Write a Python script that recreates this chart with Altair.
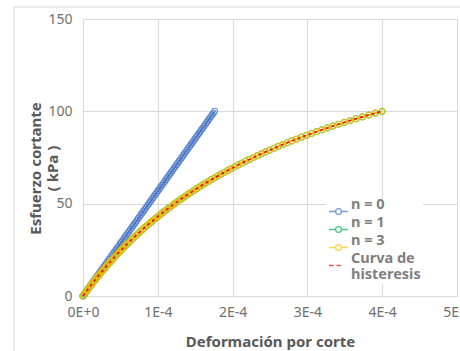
import altair as alt
import pandas as pd

# ---- data (strain in units of 1E-4, stress in kPa) ----
series_names = ["n = 0", "n = 1", "n = 3", "Curva de histeresis"]
series_colors = ["#4472c4", "#00b050", "#ffc000", "#ff0000"]

stress_kpa = [0, 1, 2, 3, 4, 5, 6, 7, 8, 9, 10, 11, 12, 13, 14, 15, 16, 17, 18, 19,
              20, 21, 22, 23, 24, 25, 26, 27, 28, 29, 30, 31, 32, 33, 34, 35, 36, 37, 38, 39,
              40, 41, 42, 43, 44, 45, 46, 47, 48, 49, 50, 51, 52, 53, 54, 55, 56, 57, 58, 59,
              60, 61, 62, 63, 64, 65, 66, 67, 68, 69, 70, 71, 72, 73, 74, 75, 76, 77, 78, 79,
              80, 81, 82, 83, 84, 85, 86, 87, 88, 89, 90, 91, 92, 93, 94, 95, 96, 97, 98, 99, 100]

strain_n0 = [0.000, 0.018, 0.035, 0.053, 0.070, 0.088, 0.106, 0.123, 0.141, 0.158,
             0.176, 0.194, 0.211, 0.229, 0.246, 0.264, 0.282, 0.299, 0.317, 0.334,
             0.352, 0.370, 0.387, 0.405, 0.422, 0.440, 0.458, 0.475, 0.493, 0.510,
             0.528, 0.546, 0.563, 0.581, 0.598, 0.616, 0.634, 0.651, 0.669, 0.686,
             0.704, 0.722, 0.739, 0.757, 0.774, 0.792, 0.810, 0.827, 0.845, 0.862,
             0.880, 0.898, 0.915, 0.933, 0.950, 0.968, 0.986, 1.003, 1.021, 1.038,
             1.056, 1.074, 1.091, 1.109, 1.126, 1.144, 1.162, 1.179, 1.197, 1.214,
             1.232, 1.250, 1.267, 1.285, 1.302, 1.320, 1.338, 1.355, 1.373, 1.390,
             1.408, 1.426, 1.443, 1.461, 1.478, 1.496, 1.514, 1.531, 1.549, 1.566,
             1.584, 1.602, 1.619, 1.637, 1.654, 1.672, 1.690, 1.707, 1.725, 1.742, 1.760]

strain_curve = [0.000, 0.018, 0.036, 0.054, 0.072, 0.091, 0.110, 0.129, 0.148, 0.167,
                0.187, 0.207, 0.227, 0.248, 0.268, 0.289, 0.310, 0.332, 0.354, 0.376,
                0.398, 0.420, 0.443, 0.466, 0.490, 0.513, 0.537, 0.562, 0.586, 0.611,
                0.637, 0.662, 0.688, 0.715, 0.741, 0.768, 0.796, 0.824, 0.852, 0.881,
                0.910, 0.939, 0.969, 1.000, 1.030, 1.062, 1.093, 1.126, 1.158, 1.191,
                1.225, 1.259, 1.294, 1.330, 1.365, 1.402, 1.439, 1.477, 1.515, 1.554,
                1.594, 1.634, 1.675, 1.716, 1.759, 1.802, 1.846, 1.890, 1.936, 1.982,
                2.029, 2.077, 2.126, 2.176, 2.227, 2.279, 2.331, 2.385, 2.440, 2.496,
                2.553, 2.611, 2.671, 2.731, 2.793, 2.856, 2.921, 2.987, 3.055, 3.123,
                3.194, 3.266, 3.340, 3.415, 3.493, 3.572, 3.653, 3.735, 3.820, 3.908, 3.997]

strain_n1 = strain_curve
strain_n3 = strain_curve
strain_hyst = strain_curve

x_ticks = [0, 1, 2, 3, 4, 5]
y_ticks = [0, 50, 100, 150]

rows = []
for name, xs in zip(series_names, [strain_n0, strain_n1, strain_n3, strain_hyst]):
    for xv, yv in zip(xs, stress_kpa):
        rows.append({"strain": xv, "stress": yv, "series": name})
df = pd.DataFrame(rows)

FONT = "Noto Sans"

x_enc = alt.X(
    "strain:Q",
    scale=alt.Scale(domain=[0, 5], nice=False),
    axis=alt.Axis(
        values=x_ticks,
        labelExpr="datum.value == 0 ? '0E+0' : datum.value + 'E-4'",
        title="Deformación por corte",
        ticks=False, domain=False, labelFlush=False,
        labelPadding=9, titleY=45, titleBaseline="middle",
    ),
)
y_enc = alt.Y(
    "stress:Q",
    scale=alt.Scale(domain=[0, 150], nice=False),
    axis=alt.Axis(
        values=y_ticks,
        title=["Esfuerzo cortante", "( kPa )"],
        ticks=False, domain=False,
        labelPadding=11, titleX=-48, titleY=149, titleBaseline="middle",
        titleAlign="center", titleLineHeight=17,
    ),
)
col_scale = alt.Scale(domain=series_names, range=series_colors)

base = alt.Chart(df).encode(x=x_enc, y=y_enc)


def sel(name):
    return alt.datum.series == name


def col():
    return alt.Color("series:N", scale=col_scale, legend=None)


border = alt.Chart(pd.DataFrame({"a": [0]})).mark_rect(
    fillOpacity=0, stroke="#d9d9d9", strokeWidth=1
).encode(x=alt.value(-69), x2=alt.value(420), y=alt.value(-12), y2=alt.value(400))

# legend-only layer (placed first so that its legend settings win the merge)
circ = "M-1,0L-0.3,0M0.3,0L1,0M-0.3,0A0.3,0.3,0,1,0,0.3,0A0.3,0.3,0,1,0,-0.3,0Z"
dash = "M-1,0L-0.55,0M-0.2,0L0.25,0"
legend_layer = base.transform_filter("false").mark_point(
    filled=False, fill="white", strokeWidth=1.3).encode(
    color=alt.Color(
        "series:N", scale=col_scale,
        legend=alt.Legend(
            title=None, orient="none", legendX=243, legendY=180,
            symbolSize=361, symbolStrokeWidth=1.3,
            labelFont=FONT, labelFontSize=14.5, labelFontWeight="bold",
            labelColor="#7f7f7f", labelBaseline="bottom", labelOffset=2, labelLimit=0,
            labelExpr="datum.label == 'Curva de histeresis' ? ['Curva de', 'histeresis'] : datum.label",
            rowPadding=-3, padding=2, fillColor="white",
        ),
    ),
    shape=alt.Shape("series:N", scale=alt.Scale(domain=series_names, range=[circ, circ, circ, dash])),
)

layers = [border, legend_layer]
# n = 0
layers.append(base.transform_filter(sel("n = 0")).mark_line(strokeWidth=1.5).encode(color=col()))
layers.append(base.transform_filter(sel("n = 0")).mark_point(
    shape="circle", filled=False, size=34, strokeWidth=1.1).encode(color=col()))
# n = 1
layers.append(base.transform_filter(sel("n = 1")).mark_line(strokeWidth=1.5).encode(color=col()))
layers.append(base.transform_filter(sel("n = 1")).mark_point(
    shape="circle", filled=False, size=36, strokeWidth=1.2).encode(color=col()))
# n = 3
layers.append(base.transform_filter(sel("n = 3")).mark_line(strokeWidth=1.5).encode(color=col()))
layers.append(base.transform_filter(sel("n = 3")).mark_point(
    shape="circle", filled=False, size=34, strokeWidth=1.3).encode(color=col()))
# hysteresis curve
layers.append(base.transform_filter(sel("Curva de histeresis")).mark_line(
    strokeWidth=1.6, strokeDash=[3, 3]).encode(color=col()))

chart = alt.layer(*layers).properties(
    width=374, height=277,
    padding={"left": 83, "top": 19, "right": 3, "bottom": 55},
    autosize=alt.AutoSizeParams(type="none"),
    background="white",
).configure_view(strokeWidth=0).configure_axis(
    gridColor="#d9d9d9", gridWidth=1,
    labelFont=FONT, labelFontSize=14, labelColor="#707070",
    titleFont=FONT, titleFontSize=15, titleFontWeight="bold", titleColor="#595959",
)

chart.save("out.html", embed_options={"renderer": "svg", "actions": False})
